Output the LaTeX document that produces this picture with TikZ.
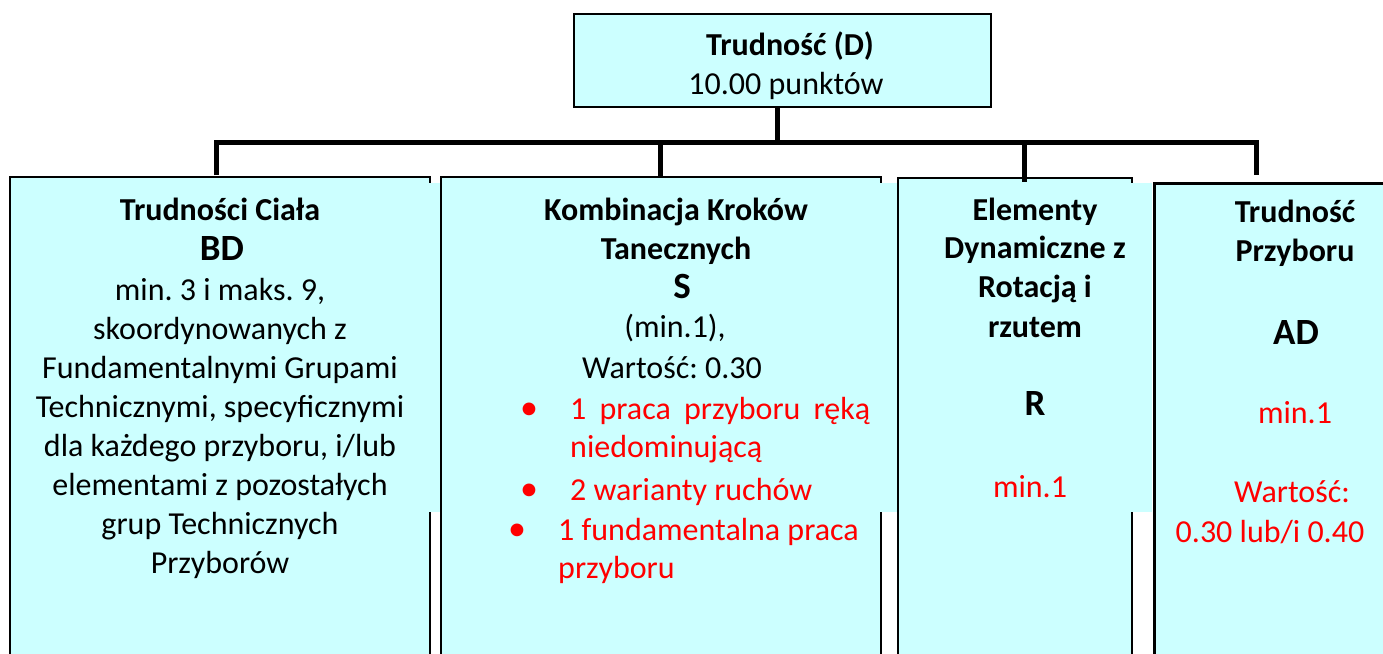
\documentclass[tikz,border=0pt]{standalone}
\usepackage{fontspec}
\setmainfont{Carlito}
\definecolor{boxcyan}{RGB}{204,255,255}
\definecolor{txtred}{RGB}{255,0,0}
\frenchspacing
\begin{document}
\frenchspacing
\begin{tikzpicture}[x=1pt,y=-1pt,
  boxfill/.style={fill=boxcyan, draw=black, line width=2pt, inner sep=0pt, outer sep=0pt, anchor=north west},
  conn/.style={line width=5pt, draw=black},
  norm/.style={anchor=base, inner sep=0pt, font=\fontsize{32}{39}\selectfont\frenchspacing},
  boldtxt/.style={anchor=base, inner sep=0pt, font=\fontsize{32}{39}\selectfont\bfseries\frenchspacing},
  bigtxt/.style={anchor=base, inner sep=0pt, font=\fontsize{37}{44}\selectfont\bfseries},
  redtxt/.style={norm, text=txtred},
  bul/.style={anchor=base, inner sep=0pt, text=txtred, font=\fontsize{36}{39}\selectfont}
]
\useasboundingbox (0,0) rectangle (1383,653);
\clip (0,0) rectangle (1383,653);
\fill[white] (0,0) rectangle (1383,653);

% boxes
\node[boxfill, minimum width=417pt, minimum height=93pt] (top) at (574,14) {};
\node[boxfill, minimum width=420pt, minimum height=490pt] (bx1) at (10,177) {};
\node[boxfill, minimum width=440pt, minimum height=490pt] (bx2) at (441,177) {};
\node[boxfill, minimum width=234pt, minimum height=490pt] (bx3) at (898,178) {};
\node[boxfill, line width=3pt, minimum width=240pt, minimum height=490pt] (bx4) at (1154,183) {};

% gap fills in upper part
\fill[boxcyan] (428.5,183) rectangle (439.9,512);
\fill[boxcyan] (879.5,183) rectangle (896.9,512);
\fill[boxcyan] (1130.5,183) rectangle (1152.4,512);

% connectors
\coordinate (bt) at (777,142);
\coordinate (b1) at (216,142);
\coordinate (b2) at (660,142);
\coordinate (b3) at (1024,142);
\coordinate (b4) at (1256,142);
\coordinate (e1) at (216,175);
\coordinate (e2) at (660,177);
\coordinate (e3) at (1024,182);
\coordinate (e4) at (1256,175);
\draw[conn] (top.south -| bt) -- (bt);
\draw[conn] (e1) -- (b1) -- (b4) -- (e4);
\draw[conn] (b2) -- (e2);
\draw[conn] (b3) -- (e3);

% top text
\node[boldtxt] (t1) at (790,55) {Trudność (D)};
\node[norm] (t2) at (786,94) {10.00 punktów};

% box 1 text
\node[boldtxt] (a1) at (220,220) {Trudności Ciała};
\node[bigtxt] (a2) at (222,260) {BD};
\node[norm] (a3) at (220,300) {min. 3 i maks. 9,};
\node[norm] (a4) at (220,339) {skoordynowanych z};
\node[norm] (a5) at (220,378) {Fundamentalnymi Grupami};
\node[norm] (a6) at (220,417) {Technicznymi, specyficznymi};
\node[norm] (a7) at (220,456) {dla każdego przyboru, i/lub};
\node[norm] (a8) at (220,495) {elementami z pozostałych};
\node[norm] (a9) at (220,534) {grup Technicznych};
\node[norm] (a10) at (220,573) {Przyborów};

% box 2 text
\node[boldtxt] (c1) at (676,220) {Kombinacja Kroków};
\node[boldtxt] (c2) at (676,259) {Tanecznych};
\node[bigtxt] (c3) at (682,298) {S};
\node[norm] (c4) at (675,337) {(min.1),};
\node[norm] (c5) at (672,378) {Wartość: 0.30};
\node[bul] (u1) at (529,419) {•};
\node[bul] (u2) at (529,500) {•};
\node[bul] (u3) at (517,540) {•};
\node[redtxt, anchor=base west] (c6) at (570,419) {\makebox[300pt][s]{1 praca przyboru ręką}};
\node[redtxt, anchor=base west] (c7) at (570,457) {niedominującą};
\node[redtxt, anchor=base west] (c8) at (570,500) {2 warianty ruchów};
\node[redtxt, anchor=base west] (c9) at (558,540) {1 fundamentalna praca};
\node[redtxt, anchor=base west] (c10) at (558,578) {przyboru};

% box 3 text
\node[boldtxt] (d1) at (1035,220) {Elementy};
\node[boldtxt] (d2) at (1035,258) {Dynamiczne z};
\node[boldtxt] (d3) at (1035,297) {Rotacją i};
\node[boldtxt] (d4) at (1035,337) {rzutem};
\node[bigtxt] (d5) at (1035,415) {R};
\node[redtxt] (d6) at (1030,497) {min.1};

% box 4 text
\node[boldtxt] (f1) at (1295,222) {Trudność};
\node[boldtxt] (f2) at (1295,261) {Przyboru};
\node[bigtxt] (f3) at (1296,344) {AD};
\node[redtxt] (f4) at (1295,423) {min.1};
\node[redtxt] (f5) at (1292,502) {Wartość:};
\node[redtxt] (f6) at (1270,542) {0.30 lub/i 0.40};
\end{tikzpicture}
\end{document}
